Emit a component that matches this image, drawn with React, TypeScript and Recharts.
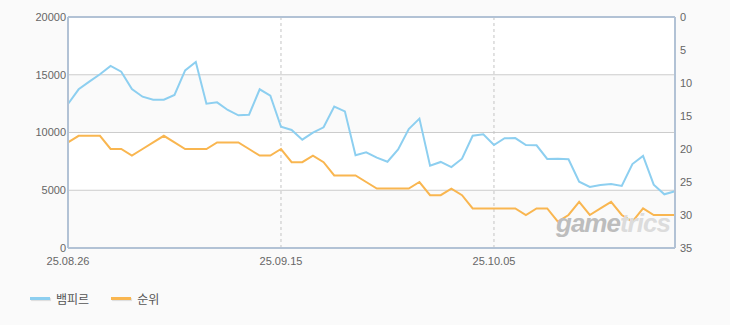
import { CartesianGrid, Legend, Line, LineChart, ReferenceLine, XAxis, YAxis } from "recharts";

const dates = [
  "25.08.26", "25.08.27", "25.08.28", "25.08.29", "25.08.30", "25.08.31",
  "25.09.01", "25.09.02", "25.09.03", "25.09.04", "25.09.05", "25.09.06", "25.09.07", "25.09.08",
  "25.09.09", "25.09.10", "25.09.11", "25.09.12", "25.09.13", "25.09.14", "25.09.15", "25.09.16",
  "25.09.17", "25.09.18", "25.09.19", "25.09.20", "25.09.21", "25.09.22", "25.09.23", "25.09.24",
  "25.09.25", "25.09.26", "25.09.27", "25.09.28", "25.09.29", "25.09.30",
  "25.10.01", "25.10.02", "25.10.03", "25.10.04", "25.10.05", "25.10.06", "25.10.07", "25.10.08",
  "25.10.09", "25.10.10", "25.10.11", "25.10.12", "25.10.13", "25.10.14", "25.10.15", "25.10.16",
  "25.10.17", "25.10.18", "25.10.19", "25.10.20", "25.10.21", "25.10.22",
];

const vampir = [
  12470, 13740, 14400, 15040, 15760, 15270, 13770, 13100, 12840, 12840,
  13250, 15380, 16100, 12490, 12610, 11950, 11490, 11540, 13740, 13190,
  10500, 10220, 9380, 9990, 10450, 12240, 11830, 8030, 8280, 7820,
  7470, 8540, 10300, 11200, 7130, 7450, 7010, 7730, 9720, 9840,
  8920, 9500, 9520, 8920, 8890, 7710, 7730, 7680, 5740, 5280,
  5450, 5540, 5370, 7270, 7970, 5480, 4650, 4910,
];

const rank = [
  19, 18, 18, 18, 20, 20, 21, 20, 19, 18,
  19, 20, 20, 20, 19, 19, 19, 20, 21, 21,
  20, 22, 22, 21, 22, 24, 24, 24, 25, 26,
  26, 26, 26, 25, 27, 27, 26, 27, 29, 29,
  29, 29, 29, 30, 29, 29, 31, 30, 28, 30,
  29, 28, 30, 31, 29, 30, 30, 30,
];

const dateTicks = ["25.08.26", "25.09.15", "25.10.05"];
const leftTicks = [0, 5000, 10000, 15000, 20000];
const rightTicks = [0, 5, 10, 15, 20, 25, 30, 35];

const BLUE = "#8dcff0";
const ORANGE = "#f9b650";
const FRAME = "#b2c2d5";
const tickStyle = { fontSize: 11, fill: "#666", fontFamily: "'Liberation Sans', Arial, sans-serif" };

const data = dates.map((d, i) => ({ date: d, vampir: vampir[i], rank: rank[i] }));

function LegendBox() {
  const items = [
    { name: "뱀피르", color: BLUE },
    { name: "순위", color: ORANGE },
  ];
  return (
    <div style={{ display: "flex", alignItems: "center", fontFamily: "'Noto Sans CJK KR', sans-serif", fontSize: 12, color: "#555" }}>
      {items.map((it) => (
        <div key={it.name} style={{ display: "flex", alignItems: "center", marginRight: 22 }}>
          <span style={{ width: 20, height: 3, background: it.color, boxShadow: "1px 1px 1px rgba(0,0,0,0.12)", marginRight: 6 }} />
          <span>{it.name}</span>
        </div>
      ))}
    </div>
  );
}

export default function App() {
  return (
    <div style={{ position: "absolute", left: 0, top: 0, width: 730, height: 325, background: "#fafafa" }}>
      <LineChart width={730} height={325} data={data} margin={{ top: 17, right: 0, bottom: 55, left: 0 }}>
        <CartesianGrid
          yAxisId="left"
          vertical={false}
          stroke="#cccccc"
          horizontalFill={["#ffffff", "#fafafa"]}
          fillOpacity={1}
        />
        <CartesianGrid yAxisId="left" horizontal={false} stroke="#c4c4c4" strokeDasharray="3 3" />
        <XAxis
          dataKey="date"
          ticks={dateTicks}
          interval={0}
          tickLine={false}
          tickSize={0}
          tickMargin={9}
          height={22}
          axisLine={{ stroke: FRAME, strokeWidth: 2 }}
          tick={tickStyle}
        />
        <YAxis
          yAxisId="left"
          domain={[0, 20000]}
          ticks={leftTicks}
          width={68}
          tickLine={false}
          tickSize={0}
          tickMargin={2}
          axisLine={{ stroke: FRAME, strokeWidth: 2 }}
          tick={tickStyle}
        />
        <YAxis
          yAxisId="right"
          orientation="right"
          reversed
          domain={[0, 35]}
          ticks={rightTicks}
          width={55}
          tickLine={false}
          tickSize={0}
          tickMargin={5}
          axisLine={{ stroke: FRAME, strokeWidth: 2 }}
          tick={{ ...tickStyle, textAnchor: "start" }}
        />
        <ReferenceLine yAxisId="left" y={20000} stroke={FRAME} strokeWidth={2} />
        <Line yAxisId="left" type="linear" dataKey="vampir" name="뱀피르" stroke={BLUE} strokeWidth={2} dot={false} isAnimationActive={false} />
        <Line yAxisId="right" type="linear" dataKey="rank" name="순위" stroke={ORANGE} strokeWidth={2} dot={false} isAnimationActive={false} />
        <Legend
          layout="horizontal"
          verticalAlign="middle"
          align="center"
          content={() => <LegendBox />}
          wrapperStyle={{ left: 30, top: 290, width: 200 }}
        />
      </LineChart>
      <div
        style={{
          position: "absolute",
          left: 556,
          top: 208,
          fontFamily: "'Liberation Sans', Arial, sans-serif",
          fontWeight: "bold",
          fontStyle: "italic",
          fontSize: 26,
          letterSpacing: -1,
          color: "#bdbdbd",
          pointerEvents: "none",
        }}
      >
        game<span style={{ color: "#dcdcdc" }}>trics</span>
      </div>
    </div>
  );
}
